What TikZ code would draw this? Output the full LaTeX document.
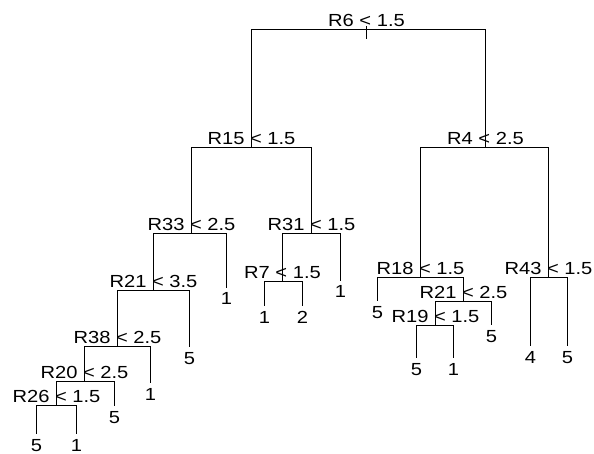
\documentclass[tikz,border=0pt]{standalone}
\usepackage{fontspec}
\setmainfont{Liberation Sans}[FakeStretch=1.15]
\begin{document}
\begin{tikzpicture}[x=1pt,y=-1pt,
  edge/.style={draw=black,line width=1pt},
  split/.style={anchor=base,inner sep=0pt,yshift=3pt,font=\fontsize{17.5}{20}\selectfont},
  leaflab/.style={anchor=base,inner sep=0pt,yshift=-17pt,font=\fontsize{17.5}{20}\selectfont}]
\useasboundingbox (0,0) rectangle (594,454);
% split points (stem x, bar y)
\coordinate (top) at (366.5,26.5);
\coordinate (n6) at (366.5,29.5);
\coordinate (n15) at (251.5,147.5);
\coordinate (n4) at (485.5,147.5);
\coordinate (n33) at (191.5,233.5);
\coordinate (n31) at (311.5,233.5);
\coordinate (n7) at (282.5,281.5);
\coordinate (n21a) at (153.5,290.5);
\coordinate (n38) at (117.5,346.5);
\coordinate (n20) at (84.5,381.5);
\coordinate (n26) at (56.5,405.5);
\coordinate (n18) at (420.5,277.5);
\coordinate (n21b) at (463.5,301.5);
\coordinate (n19) at (435.5,325.5);
\coordinate (n43) at (548.5,277.5);
% leaf ends
\coordinate (l33) at (226.5,288);
\coordinate (l21a) at (189.5,347);
\coordinate (l38) at (150.5,383);
\coordinate (l20) at (114.5,406);
\coordinate (l26a) at (36.5,434);
\coordinate (l26b) at (76.5,434);
\coordinate (l7a) at (264.5,306);
\coordinate (l7b) at (302.5,306);
\coordinate (l31) at (340.5,281);
\coordinate (l18) at (377.5,301);
\coordinate (l21b) at (491.5,325);
\coordinate (l19a) at (416.5,358);
\coordinate (l19b) at (453.5,358);
\coordinate (l43a) at (530.5,346);
\coordinate (l43b) at (567.5,346);
% edges
\draw[edge] (top) -- ++(0,13);
\draw[edge] (n6) -| (n15);
\draw[edge] (n6) -| (n4);
\draw[edge] (n15) -| (n33);
\draw[edge] (n15) -| (n31);
\draw[edge] (n33) -| (n21a);
\draw[edge] (n33) -| (l33);
\draw[edge] (n21a) -| (n38);
\draw[edge] (n21a) -| (l21a);
\draw[edge] (n38) -| (n20);
\draw[edge] (n38) -| (l38);
\draw[edge] (n20) -| (n26);
\draw[edge] (n20) -| (l20);
\draw[edge] (n26) -| (l26a);
\draw[edge] (n26) -| (l26b);
\draw[edge] (n31) -| (n7);
\draw[edge] (n31) -| (l31);
\draw[edge] (n7) -| (l7a);
\draw[edge] (n7) -| (l7b);
\draw[edge] (n4) -| (n18);
\draw[edge] (n4) -| (n43);
\draw[edge] (n18) -| (l18);
\draw[edge] (n18) -| (n21b);
\draw[edge] (n21b) -| (n19);
\draw[edge] (n21b) -| (l21b);
\draw[edge] (n19) -| (l19a);
\draw[edge] (n19) -| (l19b);
\draw[edge] (n43) -| (l43a);
\draw[edge] (n43) -| (l43b);
% split labels
\node[split] (t6) at (n6) {R6 < 1.5};
\node[split] (t15) at (n15) {R15 < 1.5};
\node[split] (t4) at (n4) {R4 < 2.5};
\node[split] (t33) at (n33) {R33 < 2.5};
\node[split] (t31) at (n31) {R31 < 1.5};
\node[split] (t7) at (n7) {R7 < 1.5};
\node[split] (t21a) at (n21a) {R21 < 3.5};
\node[split] (t38) at (n38) {R38 < 2.5};
\node[split] (t20) at (n20) {R20 < 2.5};
\node[split] (t26) at (n26) {R26 < 1.5};
\node[split] (t18) at (n18) {R18 < 1.5};
\node[split] (t21b) at (n21b) {R21 < 2.5};
\node[split] (t19) at (n19) {R19 < 1.5};
\node[split] (t43) at (n43) {R43 < 1.5};
% leaf labels
\node[leaflab] (v33) at (l33) {1};
\node[leaflab] (v21a) at (l21a) {5};
\node[leaflab] (v38) at (l38) {1};
\node[leaflab] (v20) at (l20) {5};
\node[leaflab] (v26a) at (l26a) {5};
\node[leaflab] (v26b) at (l26b) {1};
\node[leaflab] (v7a) at (l7a) {1};
\node[leaflab] (v7b) at (l7b) {2};
\node[leaflab] (v31) at (l31) {1};
\node[leaflab] (v18) at (l18) {5};
\node[leaflab] (v21b) at (l21b) {5};
\node[leaflab] (v19a) at (l19a) {5};
\node[leaflab] (v19b) at (l19b) {1};
\node[leaflab] (v43a) at (l43a) {4};
\node[leaflab] (v43b) at (l43b) {5};
\end{tikzpicture}
\end{document}
